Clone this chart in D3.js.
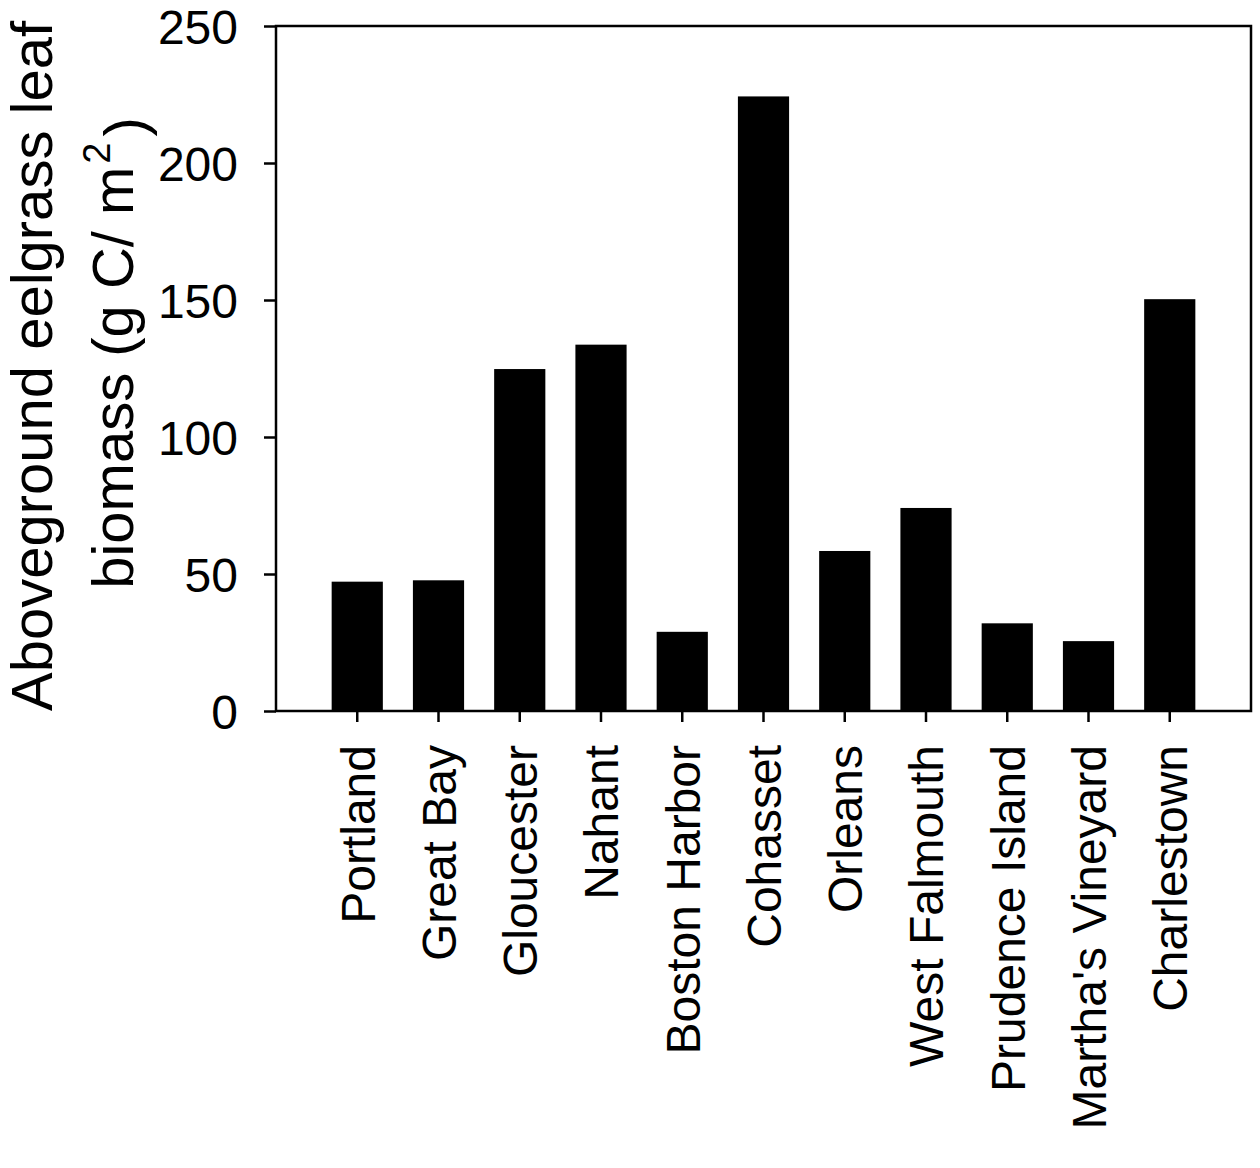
<!DOCTYPE html>
<html>
<head>
<meta charset="utf-8">
<script src="https://cdn.jsdelivr.net/npm/d3@7"></script>
<style>
  body { margin: 0; background: #fff; }
  text { font-family: "Liberation Sans", Arial, sans-serif; fill: #000; }
</style>
</head>
<body>
<script>
// sites and leaf biomass (g C / m2)
var sites = ["Portland", "Great Bay", "Gloucester", "Nahant", "Boston Harbor", "Cohasset",
             "Orleans", "West Falmouth", "Prudence Island", "Martha's Vineyard", "Charlestown"];
var biomass = [47.2, 47.7, 124.8, 133.7, 28.9, 224.3, 58.4, 74.1, 32.0, 25.5, 150.3];
var yTicks = [0, 50, 100, 150, 200, 250];

var width = 1260, height = 1168;
// plot box edges (window.top is reserved, so use other names)
var plotL = 276, plotR = 1251, plotT = 26, plotB = 711;

var svg = d3.select("body").append("svg")
    .attr("width", width)
    .attr("height", height);

var x = d3.scaleBand()
    .domain(sites)
    .range([plotL, plotR])
    .paddingInner(0.37)
    .paddingOuter(0.685);

var y = d3.scaleLinear()
    .domain([0, 250])
    .range([plotB, plotT]);

// bars
svg.selectAll("rect.bar")
    .data(biomass)
    .enter().append("rect")
    .attr("class", "bar")
    .attr("x", function(d, i) { return x(sites[i]); })
    .attr("width", x.bandwidth())
    .attr("y", function(d) { return y(d); })
    .attr("height", function(d) { return y(0) - y(d); })
    .style("fill", "#000");

// frame
svg.append("rect")
    .attr("x", plotL)
    .attr("y", plotT)
    .attr("width", plotR - plotL)
    .attr("height", plotB - plotT)
    .style("fill", "none")
    .style("stroke", "#000")
    .style("stroke-width", 2.5);

// y axis
var yAxis = svg.append("g")
    .attr("transform", "translate(" + plotL + ",0)")
    .call(d3.axisLeft(y).tickValues(yTicks).tickSize(12).tickPadding(26));
yAxis.select(".domain").remove();
yAxis.selectAll(".tick line").attr("stroke", "#000").attr("stroke-width", 2.5);
yAxis.selectAll(".tick text")
    .style("font-size", "48px")
    .attr("dy", "0.36em");

// x axis
var xAxis = svg.append("g")
    .attr("transform", "translate(0," + plotB + ")")
    .call(d3.axisBottom(x).tickSize(11).tickPadding(0));
xAxis.select(".domain").remove();
xAxis.selectAll(".tick line").attr("stroke", "#000").attr("stroke-width", 2.5);
xAxis.selectAll(".tick text")
    .style("font-size", "48px")
    .attr("text-anchor", "end")
    .attr("transform", "translate(0,34) rotate(-90)")
    .attr("x", 0)
    .attr("y", 0)
    .attr("dy", "0.36em");

// y title, two lines
svg.append("text")
    .attr("transform", "translate(52,366) rotate(-90)")
    .attr("text-anchor", "middle")
    .style("font-size", "58px")
    .text("Aboveground eelgrass leaf");

var t2 = svg.append("text")
    .attr("transform", "translate(133,353) rotate(-90)")
    .attr("text-anchor", "middle")
    .style("font-size", "58px");
t2.append("tspan").text("biomass (g C/ m");
t2.append("tspan").attr("dy", "-0.6em").attr("dx", "3").style("font-size", "38px").text("2");
t2.append("tspan").attr("dy", "0.6em").attr("dx", "6").text(")");
</script>
</body>
</html>
